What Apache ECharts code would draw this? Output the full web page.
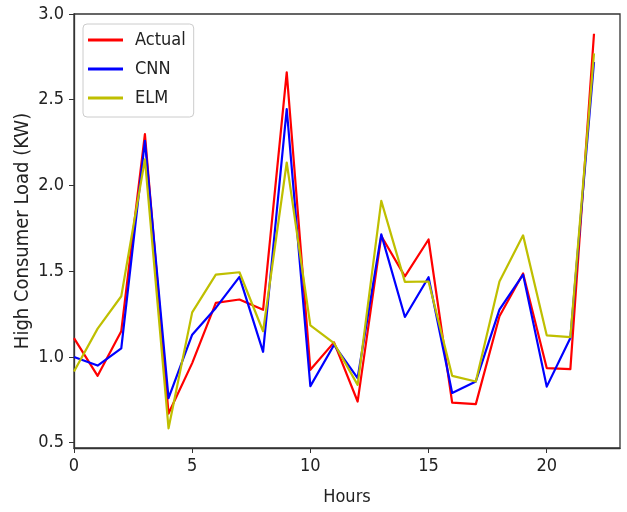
<!DOCTYPE html>
<html>
<head>
<meta charset="utf-8">
<title>High Consumer Load</title>
<script src="https://cdn.jsdelivr.net/npm/echarts@6/dist/echarts.min.js"></script>
<style>
  html, body { margin: 0; padding: 0; background: #ffffff; }
  #chart { width: 627px; height: 512px; }
</style>
</head>
<body>
<div id="chart"></div>
<script>
// Hourly load: measured values and two model forecasts
const hours = [0, 1, 2, 3, 4, 5, 6, 7, 8, 9, 10, 11, 12, 13, 14, 15, 16, 17, 18, 19, 20, 21, 22];
const actual = [1.11, 0.89, 1.15, 2.30, 0.67, 0.964, 1.315, 1.335, 1.275, 2.66, 0.925, 1.085, 0.74, 1.705, 1.47, 1.685, 0.734, 0.725, 1.237, 1.487, 0.935, 0.929, 2.885];
const cnn = [1.00, 0.95, 1.05, 2.26, 0.76, 1.13, 1.286, 1.467, 1.03, 2.446, 0.83, 1.07, 0.877, 1.715, 1.233, 1.465, 0.79, 0.857, 1.276, 1.48, 0.827, 1.11, 2.72];
const elm = [0.915, 1.165, 1.354, 2.153, 0.584, 1.26, 1.48, 1.494, 1.15, 2.134, 1.184, 1.08, 0.837, 1.91, 1.438, 1.44, 0.89, 0.857, 1.44, 1.709, 1.126, 1.116, 2.77];
const xTicks = [0, 5, 10, 15, 20];
const yTicks = [0.5, 1.0, 1.5, 2.0, 2.5, 3.0];

const FONT = '"DejaVu Sans Condensed", "DejaVu Sans", sans-serif';
const INK = '#222222';
const FRAME = '#333333';

function pairs(values) {
  return hours.map((h, i) => [h, values[i]]);
}

function lineSeries(name, values, color) {
  return {
    name: name,
    type: 'line',
    data: pairs(values),
    symbol: 'none',
    lineStyle: { color: color, width: 2.2, join: 'round' },
    itemStyle: { color: color },
    animation: false
  };
}

const chart = echarts.init(document.getElementById('chart'), null, { renderer: 'canvas' });

chart.setOption({
  backgroundColor: '#ffffff',
  animation: false,
  grid: {
    left: 74, right: 7, top: 14, bottom: 64,
    show: true,
    borderColor: FRAME,
    borderWidth: 1.3,
    backgroundColor: 'transparent'
  },
  legend: {
    orient: 'vertical',
    left: 83,
    top: 24,
    icon: 'rect',
    itemWidth: 35,
    itemHeight: 3,
    itemGap: 9,
    padding: [6, 8, 9, 5],
    backgroundColor: 'rgba(255,255,255,0.8)',
    borderColor: '#cccccc',
    borderWidth: 1,
    borderRadius: 4,
    textStyle: {
      fontFamily: FONT,
      fontSize: 18,
      color: INK,
      lineHeight: 20,
      padding: [0, 0, 0, 7]
    },
    data: ['Actual', 'CNN', 'ELM']
  },
  xAxis: {
    type: 'value',
    min: 0,
    max: 23.1,
    name: 'Hours',
    nameLocation: 'middle',
    nameGap: 40,
    nameTextStyle: { fontFamily: FONT, fontSize: 18, color: INK },
    splitLine: { show: false },
    axisLine: { show: true, lineStyle: { color: FRAME, width: 1.3 } },
    axisTick: {
      show: true, inside: false, length: 5,
      customValues: xTicks,
      lineStyle: { color: FRAME, width: 1 }
    },
    axisLabel: {
      customValues: xTicks,
      margin: 9,
      fontFamily: FONT,
      fontSize: 18,
      color: INK
    }
  },
  yAxis: {
    type: 'value',
    min: 0.469,
    max: 3.0,
    name: 'High Consumer Load (KW)',
    nameLocation: 'middle',
    nameGap: 41,
    nameMoveOverlap: false,
    nameRotate: 90,
    nameTextStyle: { fontFamily: FONT, fontSize: 20, color: INK },
    splitLine: { show: false },
    axisLine: { show: true, lineStyle: { color: FRAME, width: 1.3 } },
    axisTick: {
      show: true, inside: false, length: 5,
      customValues: yTicks,
      lineStyle: { color: FRAME, width: 1 }
    },
    axisLabel: {
      customValues: yTicks,
      margin: 10,
      fontFamily: FONT,
      fontSize: 18,
      color: INK,
      formatter: v => Number(v).toFixed(1)
    }
  },
  series: [
    lineSeries('Actual', actual, '#ff0000'),
    lineSeries('CNN', cnn, '#0000ff'),
    lineSeries('ELM', elm, '#bfbf00')
  ]
});
</script>
</body>
</html>
